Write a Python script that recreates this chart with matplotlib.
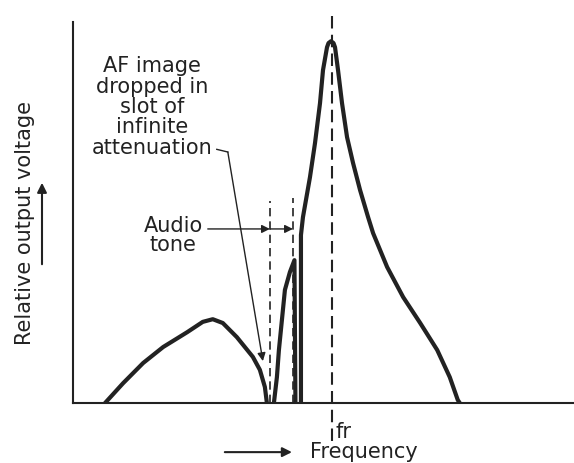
import numpy as np
import matplotlib
matplotlib.use('Agg')
import matplotlib.pyplot as plt

# Response curve (frequency and voltage in arbitrary units)
lobe1_f = [6.4, 10.0, 14.0, 18.0, 22.8, 25.9, 27.9, 29.9, 32.7, 35.9, 37.3, 38.3, 38.7]
lobe1_v = [0.0, 5.2, 10.5, 14.7, 18.6, 21.3, 22.0, 21.0, 17.3, 12.1, 8.7, 4.2, 0.0]

lobe2_f = [40.1, 40.7, 41.1, 41.7, 42.3, 43.3, 44.2, 44.4]
lobe2_v = [0.0, 6.8, 13.9, 21.8, 29.7, 34.4, 37.5, 0.0]

main_f = [45.5, 45.5, 45.9, 47.3, 48.3, 49.3, 49.9, 50.7, 51.0, 51.5, 52.0, 52.3, 52.9, 53.7, 54.7,
          55.9, 57.3, 58.9, 59.9, 62.7, 65.9, 69.3, 72.7, 75.2, 76.8, 77.2]
main_v = [0.0, 44.1, 48.8, 59.3, 68.2, 78.7, 87.4, 93.4, 94.5, 95.0, 94.5, 93.4, 87.4, 78.7, 69.8,
          63.0, 55.9, 48.8, 44.6, 35.7, 27.8, 21.0, 13.9, 6.8, 0.8, 0.0]

af_image_f = 39.3
audio_tone_f = 43.9
fr_f = 51.7
marker_top = 53.0

fig = plt.figure(figsize=(5.74, 4.63), dpi=100)
ax = fig.add_axes([73 / 574, 60 / 463, 501 / 574, 398 / 463])
ax.set_xlim(0, 100)
ax.set_ylim(0, 104.5)

for s in ['top', 'right']:
    ax.spines[s].set_visible(False)
ax.spines['left'].set_bounds(0, 100)
ax.spines['left'].set_linewidth(1.5)
ax.spines['bottom'].set_linewidth(1.5)
ax.spines['left'].set_color('#222222')
ax.spines['bottom'].set_color('#222222')
ax.set_xticks([])
ax.set_yticks([])

col = '#222222'
for f, v in [(lobe1_f, lobe1_v), (lobe2_f, lobe2_v), (main_f, main_v)]:
    ax.plot(f, v, color=col, lw=3, solid_joinstyle='round', solid_capstyle='round')

dash = (0, (5, 3))
ax.plot([af_image_f, af_image_f], [0, marker_top], color=col, lw=1.2, linestyle=dash)
ax.plot([audio_tone_f, audio_tone_f], [0, marker_top + 0.8], color=col, lw=1.2, linestyle=dash)
ax.plot([fr_f, fr_f], [-10, 103], color=col, lw=1.5, linestyle=(0, (6, 3)), clip_on=False)

fs = 15
ax.text(15.8, 77.7, 'AF image\ndropped in\nslot of\ninfinite\nattenuation', ha='center', va='center',
        fontsize=fs, linespacing=1.02, color=col)
ax.plot([28.7, 30.9], [66.6, 65.9], color=col, lw=1)
ax.annotate('', xy=(37.9, 11.0), xytext=(30.9, 65.9),
            arrowprops=dict(arrowstyle='-|>', color=col, lw=1, mutation_scale=12, shrinkA=0, shrinkB=0))

ax.text(20.0, 46.6, 'Audio', ha='center', va='center', fontsize=fs, color=col)
ax.text(20.0, 41.4, 'tone', ha='center', va='center', fontsize=fs, color=col)
ax.annotate('', xy=(af_image_f, 45.7), xytext=(26.9, 45.7),
            arrowprops=dict(arrowstyle='-|>', color=col, lw=1, mutation_scale=12, shrinkA=0, shrinkB=0))
ax.annotate('', xy=(audio_tone_f, 45.7), xytext=(af_image_f, 45.7),
            arrowprops=dict(arrowstyle='-|>', color=col, lw=1, mutation_scale=12, shrinkA=0, shrinkB=0))

ax.text(52.3, -7.6, 'fr', ha='left', va='center', fontsize=fs, color=col)
ax.text(58.1, -12.9, 'Frequency', ha='center', va='center', fontsize=fs, color=col, clip_on=False)
ax.annotate('', xy=(43.7, -12.9), xytext=(30.3, -12.9), annotation_clip=False,
            arrowprops=dict(arrowstyle='-|>', color=col, lw=1.5, mutation_scale=14, shrinkA=0, shrinkB=0))

fig.text(25 / 574, 1 - 223 / 463, 'Relative output voltage', rotation=90, ha='center', va='center',
         fontsize=fs, color=col)
fig.add_artist(matplotlib.patches.FancyArrowPatch((42 / 574, 1 - 267 / 463), (42 / 574, 1 - 180 / 463),
               transform=fig.transFigure, arrowstyle='-|>', color=col, lw=1.5, mutation_scale=14))

fig.savefig('out.png', dpi=100)
